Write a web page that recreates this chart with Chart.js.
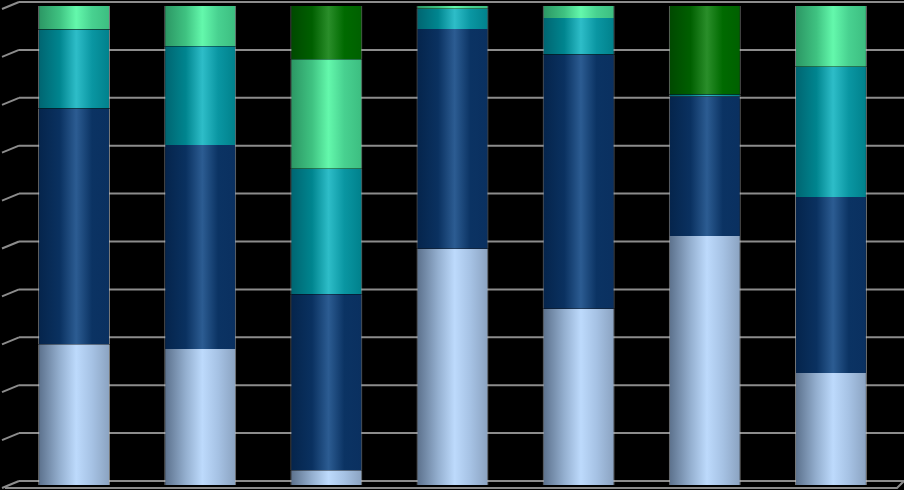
<!DOCTYPE html>
<html>
<head>
<meta charset="utf-8">
<script src="https://cdn.jsdelivr.net/npm/chart.js@4/dist/chart.umd.min.js"></script>
<style>
  html, body { margin: 0; padding: 0; background: #000; }
  #wrap { width: 904px; height: 490px; position: relative; }
</style>
</head>
<body>
<div id="wrap"><canvas id="chart"></canvas></div>
<script>
// Data (percent shares, bottom to top)
const categories = ['1', '2', '3', '4', '5', '6', '7'];
const seriesNames = ['Serie 1', 'Serie 2', 'Serie 3', 'Serie 4', 'Serie 5'];
const serie1 = [29.4, 28.4, 3.1, 49.3, 36.8, 52.0, 23.4];
const serie2 = [49.2, 42.6, 36.7, 45.9, 53.1, 29.1, 36.7];
const serie3 = [16.5, 20.6, 26.2, 4.2, 7.6, 0.4, 27.2];
const serie4 = [4.9, 8.4, 22.9, 0.6, 2.5, 0, 12.7];
const serie5 = [0, 0, 11.1, 0, 0, 18.5, 0];
const yTicks = [0, 10, 20, 30, 40, 50, 60, 70, 80, 90, 100];

// cylinder-ish shading: left edge, base, highlight, base, right edge
const shades = [
  ['#5a6f8a', '#94afcf', '#bddafc', '#a6c2e4', '#8aa2c0'],
  ['#05244b', '#0a3160', '#2c5c92', '#0b3363', '#0a3060'],
  ['#006470', '#00858f', '#2ebdc8', '#0a96a2', '#00808b'],
  ['#2b9563', '#3fc281', '#64f8ac', '#48d190', '#3cbd80'],
  ['#004800', '#005f00', '#2a8e2a', '#006a00', '#006000']
];
const stops = [0, 0.3, 0.53, 0.75, 1];

const BAR_PCT = 0.57;

function barFill(si) {
  return function (ctx) {
    const chart = ctx.chart;
    const area = chart.chartArea;
    if (!area || ctx.dataIndex === undefined) return shades[si][2];
    const x = chart.scales.x.getPixelForValue(ctx.dataIndex);
    const hw = area.width / categories.length * BAR_PCT / 2;
    const g = chart.ctx.createLinearGradient(x - hw, 0, x + hw, 0);
    stops.forEach((s, k) => g.addColorStop(s, shades[si][k]));
    return g;
  };
}

const values = [serie1, serie2, serie3, serie4, serie5];

const backWall = {
  id: 'backWall',
  beforeDatasetsDraw(chart) {
    const { ctx, chartArea, scales } = chart;
    const y = scales.y;
    const dx = 8, dy = 4;
    ctx.save();
    ctx.strokeStyle = '#8c8c8c';
    ctx.lineWidth = 2;
    yTicks.forEach(v => {
      const yb = y.getPixelForValue(v) - dy;
      ctx.beginPath();
      ctx.moveTo(chartArea.left + dx, yb);
      ctx.lineTo(chart.width, yb);
      ctx.stroke();
      ctx.beginPath();
      ctx.moveTo(chartArea.left - 9, yb + 7);
      ctx.lineTo(chartArea.left + dx, yb);
      ctx.stroke();
    });
    // floor
    const y0 = y.getPixelForValue(0);
    ctx.beginPath();
    ctx.moveTo(chartArea.left - 6, y0 + 3);
    ctx.lineTo(chartArea.right + 3, y0 + 3);
    ctx.lineTo(chart.width, y0 - dy);
    ctx.stroke();
    ctx.restore();
  }
};

new Chart(document.getElementById('chart'), {
  type: 'bar',
  data: {
    labels: categories,
    datasets: values.map((vals, i) => ({
      label: seriesNames[i],
      data: vals,
      backgroundColor: barFill(i),
      borderColor: 'rgba(200,200,200,0.6)',
      borderWidth: { left: 1, right: 1, top: 0, bottom: 0 },
      borderSkipped: false,
      barPercentage: BAR_PCT,
      categoryPercentage: 1
    }))
  },
  options: {
    responsive: true,
    maintainAspectRatio: false,
    animation: false,
    layout: { padding: { left: 11, right: 10, top: 6, bottom: 5 } },
    plugins: { legend: { display: false }, tooltip: { enabled: false } },
    scales: {
      x: { stacked: true, display: false },
      y: { stacked: true, display: false, min: 0, max: 100 }
    }
  },
  plugins: [backWall]
});
</script>
</body>
</html>
